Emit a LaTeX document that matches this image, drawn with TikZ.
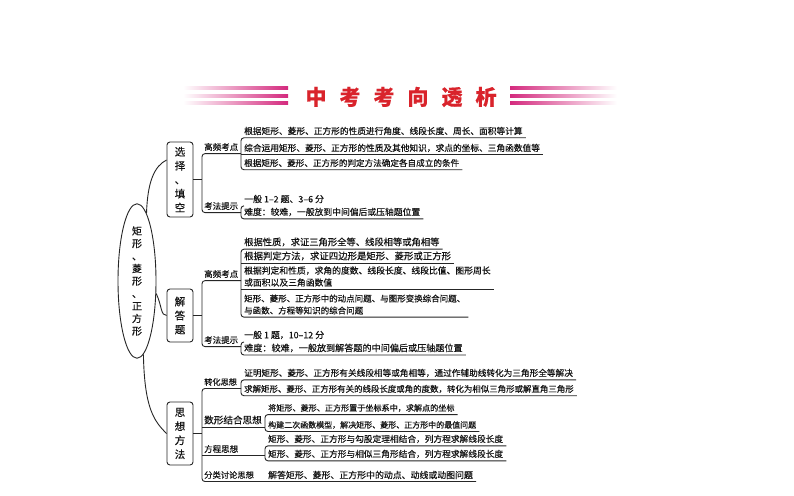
\documentclass[tikz,border=0pt]{standalone}
\usepackage{fontspec}
\usetikzlibrary{shapes.geometric,calc}
\newfontfamily\cjk{Noto Sans CJK SC}[FakeBold=0.4]
\definecolor{titlered}{HTML}{D9232B}
\definecolor{barpink}{HTML}{D42A7E}
\definecolor{ink}{HTML}{141414}
\definecolor{rule}{HTML}{262626}

\begin{document}
\begin{tikzpicture}[x=1pt,y=-1pt,
  every node/.style={text=ink},
  item/.style={anchor=west,inner xsep=3pt,inner ysep=0pt,align=left,font=\cjk\fontsize{#1}{12}\selectfont},
  item/.default=8.9,
  tag/.style={anchor=west,inner xsep=2pt,inner ysep=0pt,font=\cjk\fontsize{#1}{10}\selectfont},
  tag/.default=8.5,
  topic/.style={draw=rule,line width=0.9pt,rounded corners=3pt,minimum width=26pt,inner sep=0pt,align=center,font=\cjk\fontsize{10.5}{14}\selectfont},
  link/.style={draw=rule,line width=0.9pt,rounded corners=3pt},
  lo/.style={yshift=-2.5pt}]
\path[use as bounding box,fill=white] (0,0) rectangle (794,495);

% title bar
\foreach \y in {88,96,103}{
  \shade[left color=white,right color=barpink] (183,\y-1.6) rectangle (288,\y+1.6);
  \shade[left color=barpink,right color=white] (510,\y-1.6) rectangle (617,\y+1.6);}
\node[font=\cjk\bfseries\fontsize{21}{22}\selectfont,text=titlered] (title) at (401,97)
  {中\hspace{13pt}考\hspace{13pt}考\hspace{13pt}向\hspace{13pt}透\hspace{13pt}析};

% root and topics
\node[ellipse,draw=rule,line width=0.9pt,minimum width=38pt,minimum height=132pt,inner sep=0pt,align=center,
  font=\cjk\fontsize{10}{12.5}\selectfont] (root) at (137,281) {矩\\形\\、\\菱\\形\\、\\正\\方\\形};
\node[topic,minimum height=75pt] (box1) at (180,179.5) {选\\择\\、\\填\\空};
\node[topic,minimum height=53pt] (box2) at (180,315.5) {解\\答\\题};
\node[topic,minimum height=63pt] (box3) at (180,433.5) {思\\想\\方\\法};
\draw[link] (root.82) .. controls +(1,-32) and +(-12,6) .. ([yshift=19.5pt]box1.west);
\draw[link] (root.-33) .. controls +(6,13) and +(-6,0) .. (box2.west);
\draw[link] (root.-85) .. controls +(1,55) and +(-12,-12) .. (box3.west);

% choice / fill-in
\node[tag] (h1) at (202,147) {高频考点};
\node[tag] (k1) at (202,206) {考法提示};
\node[item=8.7] (a1) at (241,131) {根据矩形、菱形、正方形的性质进行角度、线段长度、周长、面积等计算};
\node[item=8.7] (a2) at (241,148) {综合运用矩形、菱形、正方形的性质及其他知识，求点的坐标、三角函数值等};
\node[item=8.6] (a3) at (241,163) {根据矩形、菱形、正方形的判定方法确定各自成立的条件};
\node[item] (b1) at (241,199) {一般 1–2 题、3–6 分};
\node[item=8.8] (b2) at (241,212) {难度：较难，一般放到中间偏后或压轴题位置};
\draw[link] (box1.east) -- (box1.east -| h1.west);
\draw[link] ([lo]h1.south -| a2.west) -- ([lo]h1.south west) -- ([lo]k1.south west) -- ([lo]k1.south -| b2.west);
\draw[link] ([lo]a1.south east) -- ([lo]a1.south west) -- ([lo]a3.south west) -- ([lo]a3.south east);
\draw[link] ([lo]a2.south west) -- ([lo]a2.south east);
\draw[link] ([shift={(3pt,-2.5pt)}]b1.south west) -- ([lo]b1.south west) -- ([lo]b2.south west) -- ([lo]b2.south east);

% answer questions
\node[tag] (h2) at (202,274) {高频考点};
\node[tag] (k2) at (202,340) {考法提示};
\node[item=9.3] (c1) at (241,242) {根据性质，求证三角形全等、线段相等或角相等};
\node[item=9.4] (c2) at (241,256) {根据判定方法，求证四边形是矩形、菱形或正方形};
\node[item=8.8] (c3) at (241,276.5) {根据判定和性质，求角的度数、线段长度、线段比值、图形周长\\或面积以及三角函数值};
\node[item=8.5] (c4) at (241,304.5) {矩形、菱形、正方形中的动点问题、与图形变换综合问题、\\与函数、方程等知识的综合问题};
\node[item] (d1) at (241,335) {一般 1 题，10–12 分};
\node[item=9.1] (d2) at (241,348) {难度：较难，一般放到解答题的中间偏后或压轴题位置};
\draw[link] (box2.east) -- (box2.east -| h2.west);
\draw[link] ([lo]h2.south -| c1.west) -- ([lo]h2.south west) -- ([lo]k2.south west) -- ([lo]k2.south -| d2.west);
\draw[link] ([lo]c1.south east) -- ([lo]c1.south west) -- ([lo]c4.south west) -- ([lo]c4.south east);
\foreach \n in {c2,c3}
  \draw[link] ([lo]\n.south west) -- ([lo]\n.south east);
\draw[link] ([shift={(3pt,-2.5pt)}]d1.south west) -- ([lo]d1.south west) -- ([lo]d2.south west) -- ([lo]d2.south east);

% methods
\node[tag=8.2] (v1) at (202,382) {转化思想};
\node[tag=9.6] (v2) at (202,420) {数形结合思想};
\node[tag] (v3) at (202,449) {方程思想};
\node[tag=8.3] (v4) at (202,475) {分类讨论思想};
\node[item=8.65] (e1) at (241,373) {证明矩形、菱形、正方形有关线段相等或角相等，通过作辅助线转化为三角形全等解决};
\node[item=8.45] (e2) at (241,389) {求解矩形、菱形、正方形有关的线段长度或角的度数，转化为相似三角形或解直角三角形};
\node[item=8.1] (m1) at (265,408) {将矩形、菱形、正方形置于坐标系中，求解点的坐标};
\node[item=8.0] (m2) at (265,425) {构建二次函数模型，解决矩形、菱形、正方形中的最值问题};
\node[item=8.7] (p1) at (265,439) {矩形、菱形、正方形与勾股定理相结合，列方程求解线段长度};
\node[item=8.7] (p2) at (265,454) {矩形、菱形、正方形与相似三角形结合，列方程求解线段长度};
\node[item=8.9] (q1) at (265,475) {解答矩形、菱形、正方形中的动点、动线或动图问题};
\draw[link] (box3.east) -- (box3.east -| v1.west);
\draw[link] ([lo]v1.south -| e1.west) -- ([lo]v1.south west) -- ([lo]v4.south west) -- ([lo]v4.south -| q1.east);
\draw[link] ([lo]v2.south west) -- ([lo]v2.south -| m1.west);
\draw[link] ([lo]v3.south west) -- ([lo]v3.south -| p1.west);
\draw[link] ([lo]e1.south east) -- ([lo]e1.south west) -- ([lo]e2.south west) -- ([lo]e2.south east);
\foreach \a/\b in {m1/m2,p1/p2}
  \draw[link] ([lo]\a.south east) -- ([lo]\a.south west) -- ([lo]\b.south west) -- ([lo]\b.south east);
\end{tikzpicture}
\end{document}
